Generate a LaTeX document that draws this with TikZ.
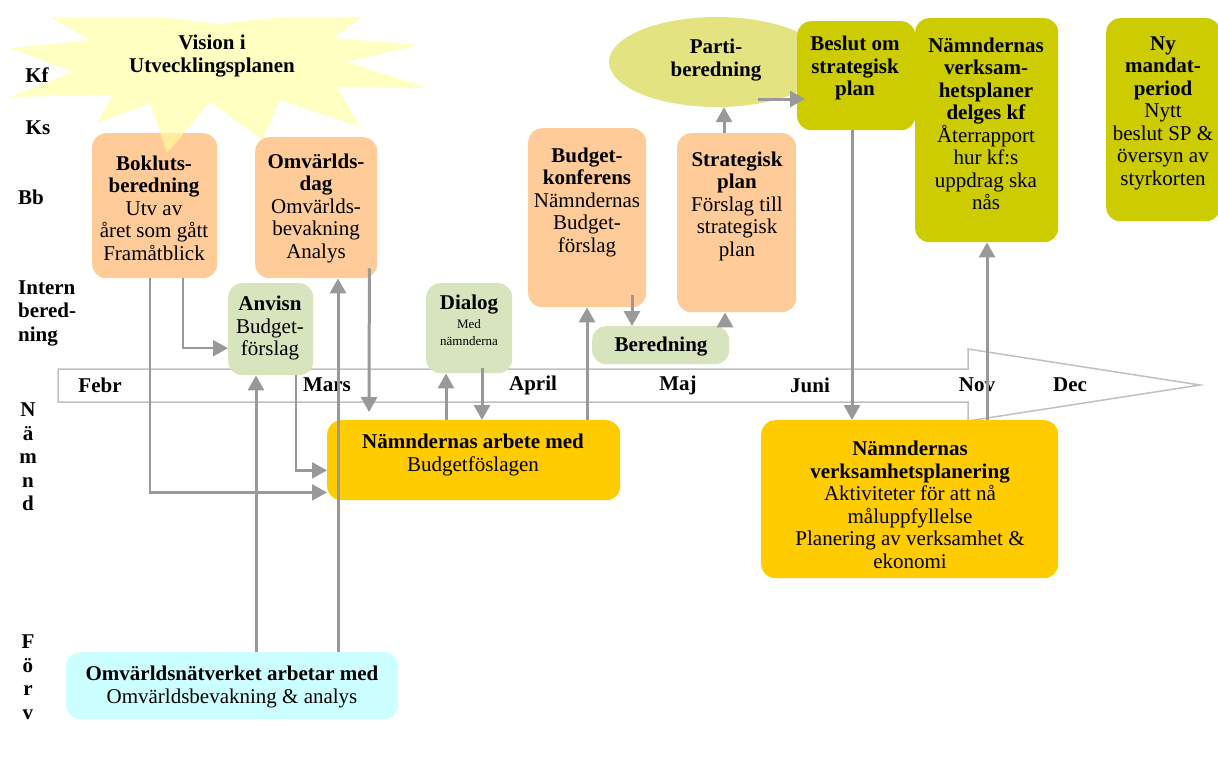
\documentclass[tikz,border=0pt]{standalone}
\usepackage{fontspec}
\setmainfont{Liberation Serif}
\usetikzlibrary{arrows.meta,shapes.geometric,calc}
\definecolor{peach}{HTML}{FFCC99}
\definecolor{sage}{HTML}{D7E4BD}
\definecolor{olive}{HTML}{CCCC00}
\definecolor{gold}{HTML}{FFCC00}
\definecolor{aqua}{HTML}{CCFFFF}
\definecolor{partic}{HTML}{E3E382}
\definecolor{starc}{HTML}{FFFFA0}
\definecolor{connc}{HTML}{999999}
\definecolor{tlinec}{HTML}{C0C0C0}
\begin{document}
\begin{tikzpicture}[x=1pt,y=-1pt,
  box/.style={rounded corners=14pt, inner sep=0pt, anchor=north west, draw=none},
  txt/.style={align=center, font=\fontsize{21}{22.5}\selectfont, inner sep=0pt},
  small/.style={align=center, font=\fontsize{13}{17}\selectfont, inner sep=0pt},
  lbl/.style={font=\fontsize{21}{23.5}\selectfont\bfseries, inner sep=0pt},
  conn/.style={draw=connc, line width=3pt, -{Triangle[length=15pt,width=16pt]}},
  thinc/.style={line width=2.2pt}]
\useasboundingbox (0,0) rectangle (1218,776);

% timeline arrow
\draw[tlinec, line width=1.5pt, fill=white] (58,369) -- (968,369) -- (968,349) -- (1200,385) -- (968,421) -- (968,402) -- (58,402) -- cycle;
\node[lbl] (mfeb) at (100,385) {Febr};
\node[lbl] (mmar) at (327,385) {Mars};
\node[lbl] (mapr) at (533,385) {April};
\node[lbl] (mmaj) at (678,385) {Maj};
\node[lbl] (mjun) at (810,385) {Juni};
\node[lbl] (mnov) at (977,385) {Nov};
\node[lbl] (mdec) at (1070,385) {Dec};

% boxes
\node[box, fill=peach, minimum width=125pt, minimum height=145pt] (bok) at (92,133) {};
\node[box, fill=peach, minimum width=122pt, minimum height=141pt] (omv) at (255,137) {};
\node[box, fill=sage, minimum width=85pt, minimum height=92pt] (anv) at (228,283) {};
\node[box, fill=sage, minimum width=86pt, minimum height=90pt] (dia) at (426,283) {};
\node[box, fill=peach, minimum width=118pt, minimum height=179pt] (bud) at (528,128) {};
\node[box, fill=peach, minimum width=119pt, minimum height=179pt] (str) at (677,133) {};
\node[box, fill=sage, minimum width=137pt, minimum height=38pt] (ber) at (592,326) {};
\node[ellipse, fill=partic, minimum width=216pt, minimum height=90pt, inner sep=0pt] (par) at (717,62) {};
\node[box, fill=olive, minimum width=118pt, minimum height=109pt] (bes) at (797,21) {};
\node[box, fill=olive, minimum width=143pt, minimum height=224pt] (nvd) at (915,18) {};
\node[box, fill=olive, minimum width=114pt, minimum height=203pt] (ny) at (1106,18) {};
\node[box, fill=gold, minimum width=293pt, minimum height=80pt] (nab) at (327,420) {};
\node[box, fill=gold, minimum width=297pt, minimum height=158pt] (nvp) at (761,420) {};
\node[box, fill=aqua, minimum width=332pt, minimum height=67pt] (omn) at (66,652) {};

% star
\fill[starc, fill opacity=0.65] (50,17) -- (90,40) -- (10,48) -- (73,72) -- (10,97) -- (113,95)
  -- (97,123) -- (150,103) -- (167,153) -- (210,102) -- (263,140) -- (280,100) -- (360,127)
  -- (337,87) -- (428,88) -- (347,62) -- (418,45) -- (333,38) -- (362,17) -- (285,17)
  -- (217,24) -- (160,17) -- cycle;

% row labels
\node[lbl] (kf) at (37,75) {Kf};
\node[lbl] (ks) at (38,128) {Ks};
\node[lbl] (bb) at (31,197) {Bb};
\node[lbl, align=left, anchor=west] (ib) at (18,313) {Intern\\bered-\\ning};
\node[lbl, align=center] (nm) at (28,457) {N\\ä\\m\\n\\d};
\node[lbl, align=center] (fv) at (28,677) {F\\ö\\r\\v};

% texts
\node[txt] (vis) at (212,56) {\textbf{Vision i}\\\textbf{Utvecklingsplanen}};
\node[txt] (bokt) at (154,208) {\textbf{Bokluts-}\\\textbf{beredning}\\Utv av\\året som gått\\Framåtblick};
\node[txt] (omvt) at (316,208) {\textbf{Omvärlds-}\\\textbf{dag}\\Omvärlds-\\bevakning\\Analys};
\node[txt] (anvt) at (270,328) {\textbf{Anvisn}\\Budget-\\förslag};
\node[txt] (diat) at (469,305) {\textbf{Dialog}};
\node[small] (dias) at (469,333) {Med\\nämnderna};
\node[txt] (budt) at (587,202) {\textbf{Budget-}\\\textbf{konferens}\\Nämndernas\\Budget-\\förslag};
\node[txt] (strt) at (737,206) {\textbf{Strategisk}\\\textbf{plan}\\Förslag till\\strategisk\\plan};
\node[txt] (bert) at (661,347) {\textbf{Beredning}};
\node[txt] (part) at (716,60) {\textbf{Parti-}\\\textbf{beredning}};
\node[txt] (best) at (855,68) {\textbf{Beslut om}\\\textbf{strategisk}\\\textbf{plan}};
\node[txt] (nvdt) at (986,124) {\textbf{Nämndernas}\\\textbf{verksam-}\\\textbf{hetsplaner}\\\textbf{delges kf}\\Återrapport\\hur kf:s\\uppdrag ska\\nås};
\node[txt] (nyt) at (1163,113) {\textbf{Ny}\\\textbf{mandat-}\\\textbf{period}\\Nytt\\beslut SP \&\\översyn av\\styrkorten};
\node[txt] (nabt) at (473,455) {\textbf{Nämndernas arbete med}\\Budgetföslagen};
\node[txt] (nvpt) at (910,505) {\textbf{Nämndernas}\\\textbf{verksamhetsplanering}\\Aktiviteter för att nå\\måluppfyllelse\\Planering av verksamhet \&\\ekonomi};
\node[txt] (omnt) at (232,687) {\textbf{Omvärldsnätverket arbetar med}\\Omvärldsbevakning \& analys};

% connectors
\coordinate (c1) at ([xshift=58pt]bok.south west);
\draw[conn, thinc] (c1) |- ([yshift=8pt]nab.south west);
\coordinate (c2) at ([xshift=91pt]bok.south west);
\draw[conn, thinc] (c2) |- ([yshift=-19pt]anv.west);
\coordinate (c3) at ([xshift=68pt]anv.south west);
\draw[conn, thinc] (c3) |- ([yshift=30pt]nab.south west);
\coordinate (c4) at ([xshift=-8pt,yshift=10pt]omv.south east);
\draw[conn] (c4) -- ([xshift=42pt,yshift=8pt]nab.north west);
\coordinate (o1) at ([xshift=190pt]omn.north west);
\draw[conn] (o1) -- (o1 |- anv.south);
\coordinate (o2) at ([xshift=272pt]omn.north west);
\draw[conn] (o2) -- (o2 |- omv.south);
\coordinate (n1) at ([xshift=119pt]nab.north west);
\draw[conn] (n1) -- (n1 |- dia.south);
\coordinate (d1) at ([xshift=56pt,yshift=5pt]dia.south west);
\draw[conn] (d1) -- (d1 |- nab.north);
\coordinate (n2) at ([xshift=260pt]nab.north west);
\draw[conn] (n2) -- (n2 |- bud.south);
\coordinate (b1) at ([xshift=104pt,yshift=12pt]bud.south west);
\draw[conn] (b1) -- (b1 |- ber.north);
\coordinate (b2) at ([xshift=133pt]ber.north west);
\draw[conn] (b2) -- (b2 |- str.south);
\coordinate (s1) at ([xshift=47pt]str.north west);
\draw[conn] (s1) -- (s1 |- par.south);
\coordinate (p1) at ([xshift=41pt,yshift=-37pt]par.center);
\draw[conn] (p1) -- ([xshift=8pt]p1 -| bes.west);
\coordinate (bs) at ([xshift=55pt]bes.south west);
\draw[conn] (bs) -- (bs |- nvp.north);
\coordinate (v1) at ([xshift=226pt]nvp.north west);
\draw[conn] (v1) -- (v1 |- nvd.south);
\end{tikzpicture}
\end{document}
